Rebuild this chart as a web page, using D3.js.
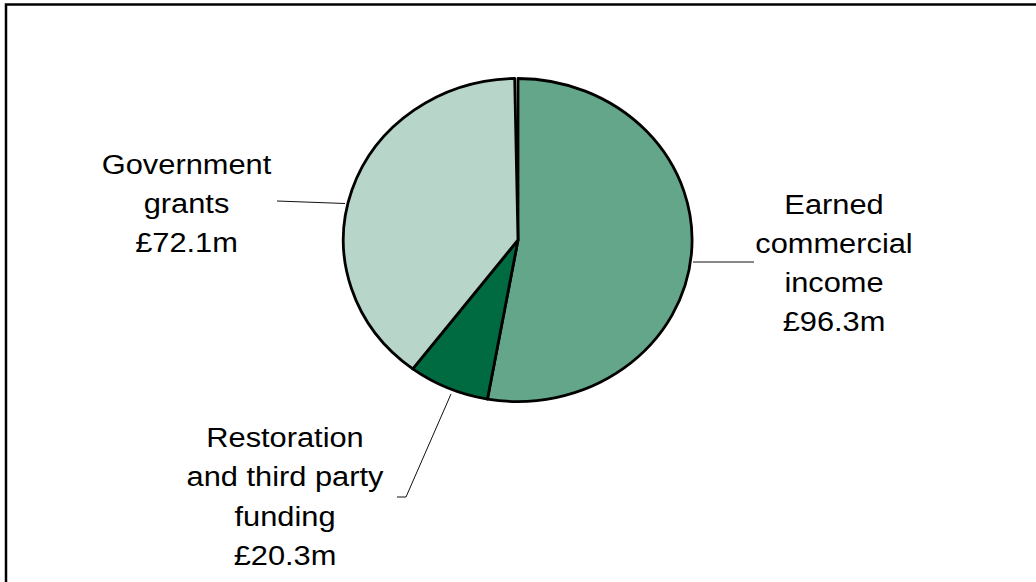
<!DOCTYPE html>
<html>
<head>
<meta charset="utf-8">
<script src="https://cdn.jsdelivr.net/npm/d3@7"></script>
<style>
  body { margin: 0; background: #fff; }
  svg { display: block; }
</style>
</head>
<body>
<script>
// data
const categories = ["Earned commercial income", "Restoration and third party funding", "Government grants"];
const amounts = ["£96.3m", "£20.3m", "£72.1m"];
// slice shares as drawn in the picture (percent of the circle)
const sliceShares = [52.8, 7.5, 39.4];
const colours = ["#64a68a", "#006a40", "#b8d5c9"];
const labelLines = [
  ["Earned", "commercial", "income"],
  ["Restoration", "and third party", "funding"],
  ["Government", "grants"]
];

const w = 1036, h = 582;
const cx = 518, cy = 240, rx = 174.5, ry = 161.5;

const svg = d3.select("body").append("svg")
  .attr("width", w)
  .attr("height", h);

// outer frame (right/bottom run off the picture)
svg.append("rect")
  .attr("x", 6).attr("y", 4.5)
  .attr("width", 1100).attr("height", 700)
  .attr("fill", "none")
  .attr("stroke", "#000")
  .attr("stroke-width", 2.5);

const pie = d3.pie().sort(null).value(d => d)
  .startAngle(0)
  .endAngle(2 * Math.PI * (1 - 0.003));

const arcs = pie(sliceShares);
const arc = d3.arc().innerRadius(0).outerRadius(1);

const pieG = svg.append("g")
  .attr("transform", "translate(" + cx + "," + cy + ") scale(" + rx + "," + ry + ")");

pieG.selectAll("path")
  .data(arcs)
  .enter()
  .append("path")
  .attr("d", arc)
  .attr("fill", (d, i) => colours[i])
  .attr("stroke", "#000")
  .attr("stroke-width", 2.8)
  .attr("stroke-linejoin", "round")
  .attr("vector-effect", "non-scaling-stroke");

// leader lines
const leaders = [
  [[693, 262], [754, 262]],
  [[451, 394], [406, 497], [397, 497]],
  [[345, 203.5], [277, 201]]
];
svg.selectAll(".leader")
  .data(leaders)
  .enter()
  .append("path")
  .attr("class", "leader")
  .attr("d", d => d3.line()(d))
  .attr("fill", "none")
  .attr("stroke", "#111")
  .attr("stroke-width", 1);

// labels
const labelPos = [[834, 213.5], [285, 447], [186.5, 173.5]];
const lineStep = 39.3;

labelLines.forEach((lines, i) => {
  const all = lines.concat([amounts[i]]);
  const g = svg.append("g")
    .attr("transform", "translate(" + labelPos[i][0] + "," + labelPos[i][1] + ") scale(1.1,1)");
  g.selectAll("text")
    .data(all)
    .enter()
    .append("text")
    .attr("x", 0)
    .attr("y", (d, j) => j * lineStep)
    .attr("text-anchor", "middle")
    .attr("font-family", "Liberation Sans, Arial, sans-serif")
    .attr("font-size", 28)
    .attr("fill", "#000")
    .text(d => d);
});
</script>
</body>
</html>
